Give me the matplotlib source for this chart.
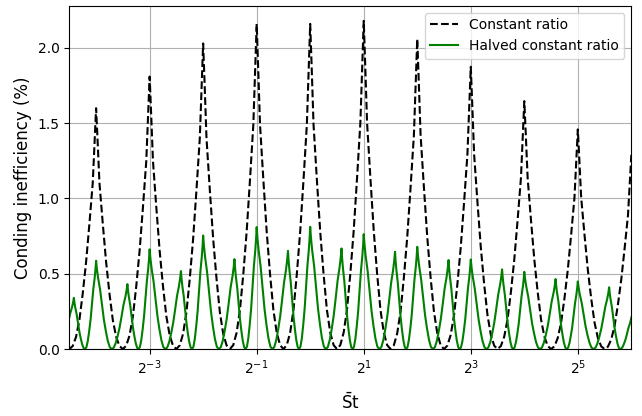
import numpy as np
import matplotlib
matplotlib.use('Agg')
import matplotlib.pyplot as plt
from matplotlib.ticker import NullLocator, LogFormatterSciNotation

# Peak positions (St) and peak heights (%)
black_peak_x = [2**-5, 2**-4, 2**-3, 2**-2, 2**-1, 1, 2, 4, 8, 16, 32, 64]
black_peak_val = [1.38, 1.60, 1.81, 2.03, 2.16, 2.16, 2.18, 2.06, 1.875, 1.647, 1.459, 1.29]

green_peak_x = [1/32, 3/64, 1/16, 3/32, 1/8, 3/16, 1/4, 3/8, 1/2, 3/4,
                1, 1.5, 2, 3, 4, 6, 8, 12, 16, 24, 32, 48, 64]
green_peak_val = [0.50, 0.34, 0.586, 0.431, 0.662, 0.518, 0.754, 0.597, 0.81, 0.652,
                  0.812, 0.668, 0.763, 0.646, 0.679, 0.591, 0.595, 0.529, 0.513, 0.465,
                  0.449, 0.41, 0.21]

# shape of one half lobe (fraction of peak), from peak (s=0) to minimum (s=1)
shape_s = [0, 0.05, 0.125, 0.25, 0.375, 0.5, 0.625, 0.75, 0.875, 1.0]
black_shape = [1.0, 0.88, 0.69, 0.52, 0.36, 0.23, 0.12, 0.05, 0.012, 0.0]
green_shape = [1.0, 0.91, 0.81, 0.68, 0.50, 0.33, 0.20, 0.09, 0.02, 0.0]


def build_curve(peak_x, peak_val, shape):
    lx = np.log2(peak_x)
    s = np.array(shape_s)
    f = np.array(shape)
    xs, ys = [], []
    for i in range(len(lx) - 1):
        a, b = lx[i], lx[i + 1]
        m = (a + b) / 2
        xs.extend(a + s * (m - a))
        ys.extend(peak_val[i] * f)
        xs.extend(b + s[::-1] * (m - b))
        ys.extend(peak_val[i + 1] * f[::-1])
    return 2 ** np.array(xs), np.array(ys)


bx, by = build_curve(black_peak_x, black_peak_val, black_shape)
gx, gy = build_curve(green_peak_x, green_peak_val, green_shape)

fig = plt.figure(figsize=(6.42, 4.16), dpi=100)
ax = fig.add_axes([0.108, 0.161, 0.8754, 0.825])

ax.plot(bx, by, 'k--', lw=1.5, label='Constant ratio')
ax.plot(gx, gy, color='g', lw=1.5, label='Halved constant ratio')

ax.set_xscale('log', base=2)
ax.set_xlim(2**-4.5, 2**6)
ax.set_ylim(0, 2.28)
ax.set_xticks([2**-3, 2**-1, 2, 8, 32])
ax.xaxis.set_major_formatter(LogFormatterSciNotation(base=2))
ax.xaxis.set_minor_locator(NullLocator())
ax.set_yticks([0, 0.5, 1.0, 1.5, 2.0])
ax.grid(True)

ax.set_xlabel(r'$\bar{\mathrm{S}}\mathrm{t}$', fontsize=12, labelpad=11)
ax.set_ylabel('Conding inefficiency (%)', fontsize=12)
ax.legend(loc='upper right')

fig.savefig('out.png', dpi=100)
